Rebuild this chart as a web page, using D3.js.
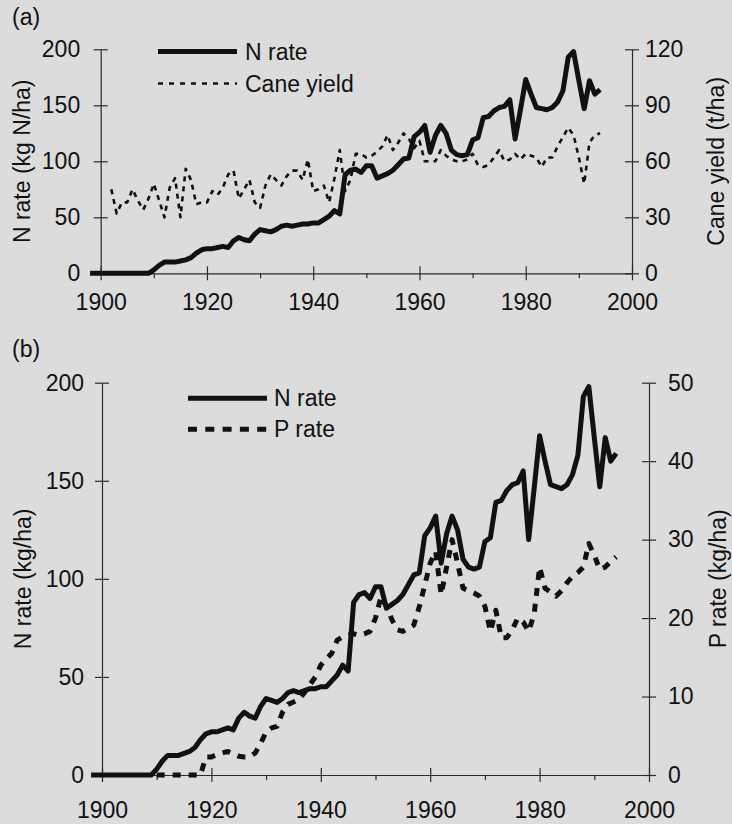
<!DOCTYPE html>
<html>
<head>
<meta charset="utf-8">
<script src="https://cdn.jsdelivr.net/npm/d3@7"></script>
<style>
  html, body { margin: 0; padding: 0; background: #dcdcdc; }
  svg { display: block; }
  text { font-family: "Liberation Sans", Arial, Helvetica, sans-serif; fill: #111; }
</style>
</head>
<body>
<svg id="chart" width="732" height="824"></svg>
<script>
// ---------------- DATA ----------------
// N rate (kg N/ha), annual, first year 1898
const nStartYear = 1898;
const nRate = [
  0, 0,
  0, 0, 0, 0, 0, 0, 0, 0, 0, 0,
  3, 7, 10, 10, 10, 11, 12, 14, 18, 21,
  22, 22, 23, 24, 23, 29, 32, 30, 29, 35,
  39, 38, 37, 39, 42, 43, 42, 43, 44, 44,
  45, 45, 48, 51, 56, 53, 88, 92, 93, 90,
  96, 96, 85, 87, 89, 92, 97, 102, 103, 122,
  126, 132, 108, 123, 132, 125, 110, 106, 105, 106,
  119, 121, 139, 140, 145, 148, 149, 155, 120, 146,
  173, 160, 148, 147, 146, 148, 153, 163, 193, 198,
  172, 147, 172, 160, 164
];
// Cane yield (t/ha), annual, first year 1902
const caneStartYear = 1902;
const caneYield = [
  45, 32, 38, 38, 45, 39, 34, 40,
  48, 39, 30, 46, 51, 30, 56, 50, 37, 38,
  38, 44, 42, 46, 53, 55, 40, 45, 50, 38,
  35, 47, 53, 50, 47, 52, 55, 55, 50, 61,
  44, 45, 47, 38, 51, 66, 44, 50, 64, 64,
  62, 63, 65, 68, 74, 66, 70, 75, 72, 67,
  71, 60, 60, 60, 66, 63, 61, 60, 60, 61,
  64, 58, 57, 58, 62, 66, 60, 61, 64, 61,
  64, 63, 62, 57, 62, 62, 68, 73, 78, 74,
  62, 48, 70, 74, 75
];
// P rate (kg/ha), annual, first year 1910
const pStartYear = 1910;
const pRate = [
  0, 0, 0, 0, 0, 0, 0, 0, 0, 2.3,
  2.3, 2.6, 2.8, 3.0, 2.7, 2.4, 2.3, 2.3, 2.8, 4.0,
  5.5, 6.0, 6.2, 8.0, 9.0, 9.3, 9.6, 10.5, 11.5, 12.5,
  14, 14.8, 15.5, 17.2, 17.6, 17.8, 18, 17.8, 18, 18.3,
  20, 22.7, 21.5, 19.8, 18.5, 18.3, 18.7, 19.1, 21.4, 24.2,
  27, 28.5, 23, 26.5, 30, 27, 23.8, 23.5, 23.2, 22.8,
  21.5, 18.3, 21, 17.5, 17.5, 18.5, 20, 19.5, 18.3, 20.5,
  26.5, 23.8, 23.3, 22.8, 23.5, 24.5, 25.3, 25.8, 26.5, 29.5,
  28, 26.2, 26.5, 27.2, 27.8
];
// Tick values
const yearMajorTicks = [1900, 1920, 1940, 1960, 1980, 2000];
const yearMinorTicks = [1910, 1930, 1950, 1970, 1990];
const nTicks = [0, 50, 100, 150, 200];
const caneTicks = [0, 30, 60, 90, 120];
const pTicks = [0, 10, 20, 30, 40, 50];
// Texts
const panelLabels = ["(a)", "(b)"];
const legendA = ["N rate", "Cane yield"];
const legendB = ["N rate", "P rate"];
const axisTitles = {
  aLeft: "N rate (kg N/ha)", aRight: "Cane yield (t/ha)",
  bLeft: "N rate (kg/ha)", bRight: "P rate (kg/ha)"
};

// ---------------- HELPERS ----------------
const toPoints = (start, arr) => arr.map((v, i) => ({ year: start + i, value: v }));
const nData = toPoints(nStartYear, nRate);
const caneData = toPoints(caneStartYear, caneYield);
const pData = toPoints(pStartYear, pRate);

const svg = d3.select("#chart");
const FONT = 23;
const INK = "#111";
const AXIS = "#2a2a2a";

function styleAxis(g, cross, cls) {
  g.selectAll(".domain").attr("stroke", AXIS).attr("stroke-width", 1.2);
  g.selectAll(".tick line").attr("stroke", AXIS).attr("stroke-width", 1.2);
  g.selectAll(".tick text").attr("font-size", FONT).attr("fill", INK)
    .style("font-family", '"Liberation Sans", Arial, sans-serif');
}

function drawPanel(cfg) {
  const x = d3.scaleLinear().domain([1900, 2000]).range([cfg.left, cfg.right]);
  const yL = d3.scaleLinear().domain([0, 200]).range([cfg.bottom, cfg.top]);
  const yR = d3.scaleLinear().domain([0, cfg.rightMax]).range([cfg.bottom, cfg.top]);
  const g = svg.append("g");

  // minor x ticks (below only)
  const gxMinor = g.append("g").attr("transform", `translate(0,${cfg.bottom})`)
    .call(d3.axisBottom(x).tickValues(yearMinorTicks).tickSize(5).tickFormat(""));
  gxMinor.select(".domain").remove();
  styleAxis(gxMinor);

  // major x axis
  const gx = g.append("g").attr("transform", `translate(0,${cfg.bottom})`)
    .call(d3.axisBottom(x).tickValues(yearMajorTicks).tickSizeInner(7).tickSizeOuter(0)
      .tickPadding(cfg.xPad).tickFormat(d3.format("d")));
  gx.selectAll(".tick line").attr("y1", -7).attr("y2", 7);
  styleAxis(gx);

  // left axis
  const gl = g.append("g").attr("transform", `translate(${cfg.left},0)`)
    .call(d3.axisLeft(yL).tickValues(nTicks).tickSizeInner(7).tickSizeOuter(0).tickPadding(cfg.lPad));
  gl.selectAll(".tick line").attr("x1", -7).attr("x2", 7);
  styleAxis(gl);

  // right axis
  const gr = g.append("g").attr("transform", `translate(${cfg.right},0)`)
    .call(d3.axisRight(yR).tickValues(cfg.rightTicks).tickSizeInner(7).tickSizeOuter(0).tickPadding(cfg.rPad));
  gr.selectAll(".tick line").attr("x1", -7).attr("x2", 7);
  styleAxis(gr);
  gr.selectAll(".tick text").attr("text-anchor", "start");

  // series 2 (dashed) first, N on top
  const line2 = d3.line().x(d => x(d.year)).y(d => yR(d.value));
  g.append("path").datum(cfg.series2)
    .attr("fill", "none").attr("stroke", INK)
    .attr("stroke-width", cfg.s2Width).attr("stroke-dasharray", cfg.s2Dash)
    .attr("stroke-linejoin", "round")
    .attr("d", line2);

  const lineN = d3.line().x(d => x(d.year)).y(d => yL(d.value));
  g.append("path").datum(nData)
    .attr("fill", "none").attr("stroke", INK)
    .attr("stroke-width", 5).attr("stroke-linejoin", "round")
    .attr("d", lineN);

  // legend
  const lg = g.append("g");
  lg.append("line").attr("x1", cfg.legX0).attr("x2", cfg.legX1)
    .attr("y1", cfg.legY[0]).attr("y2", cfg.legY[0])
    .attr("stroke", INK).attr("stroke-width", 5);
  lg.append("line").attr("x1", cfg.legX0).attr("x2", cfg.legX1)
    .attr("y1", cfg.legY[1]).attr("y2", cfg.legY[1])
    .attr("stroke", INK).attr("stroke-width", cfg.s2Width).attr("stroke-dasharray", cfg.s2LegDash);
  cfg.legend.forEach((t, i) => {
    lg.append("text").attr("x", cfg.legTextX).attr("y", cfg.legY[i]).attr("dy", "0.35em")
      .attr("font-size", FONT).text(t);
  });

  // axis titles
  const midY = (cfg.top + cfg.bottom) / 2;
  g.append("text").attr("transform", `translate(${cfg.lTitleX},${midY}) rotate(-90)`)
    .attr("text-anchor", "middle").attr("dy", "0.35em").attr("font-size", FONT).text(cfg.lTitle);
  g.append("text").attr("transform", `translate(${cfg.rTitleX},${midY}) rotate(-90)`)
    .attr("text-anchor", "middle").attr("dy", "0.35em").attr("font-size", FONT).text(cfg.rTitle);

  // panel label
  g.append("text").attr("x", 12).attr("y", cfg.labelY).attr("font-size", FONT).text(cfg.label);
}

drawPanel({
  left: 100.7, right: 632, top: 49.3, bottom: 273.3,
  rightMax: 120, rightTicks: caneTicks,
  xPad: 13, lPad: 13.5, rPad: 6,
  series2: caneData, s2Width: 2.6, s2Dash: "5,5", s2LegDash: "5,6",
  legX0: 158, legX1: 237, legTextX: 245, legY: [51.5, 83.5], legend: legendA,
  lTitleX: 22, rTitleX: 716, lTitle: axisTitles.aLeft, rTitle: axisTitles.aRight,
  label: panelLabels[0], labelY: 25
});

drawPanel({
  left: 102, right: 649, top: 382.7, bottom: 775,
  rightMax: 50, rightTicks: pTicks,
  xPad: 20, lPad: 11, rPad: 12,
  series2: pData, s2Width: 5, s2Dash: "8,8", s2LegDash: "9,8.3",
  legX0: 188, legX1: 267, legTextX: 274, legY: [398.3, 429.3], legend: legendB,
  lTitleX: 23, rTitleX: 718, lTitle: axisTitles.bLeft, rTitle: axisTitles.bRight,
  label: panelLabels[1], labelY: 357
});
</script>
</body>
</html>
